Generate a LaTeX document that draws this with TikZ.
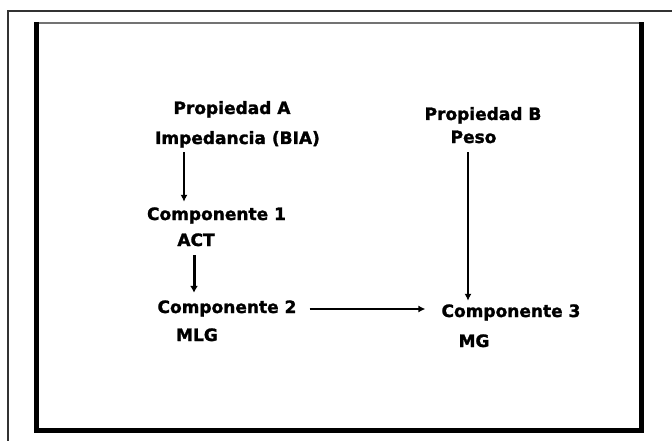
\documentclass[tikz,border=0pt]{standalone}
\usepackage{fontspec}
\setmainfont{DejaVu Sans}
\newfontfamily\lblfont{DejaVu Sans Bold}[FakeBold=1.5]
\usetikzlibrary{arrows.meta}
\begin{document}
\begin{tikzpicture}[x=1pt,y=-1pt,
  lbl/.style={anchor=base,inner sep=0pt,text height=12pt,text depth=3pt,
    font=\fontsize{17}{19}\lblfont},
  arr/.style={line width=1.3pt,-{Latex[length=7pt,width=7pt]}},
  arrthick/.style={line width=3pt,-{Latex[length=7pt,width=8pt]}}]
\useasboundingbox (0,0) rectangle (672,441);
% outer frame
\draw[line width=1.6pt,black!80] (8,441) -- (8,11) -- (672,11);
% inner frame
\draw[line width=2pt,black!55] (36,23) -- (641,23);
\draw[line width=5pt,black] (36.5,22) -- (36.5,430) -- (641,430) -- (641,22);
% labels
\node[lbl] (propA) at (232,114) {Propiedad A};
\node[lbl] (impA)  at (237.5,144) {Impedancia (BIA)};
\node[lbl] (comp1) at (216.5,220) {Componente 1};
\node[lbl] (act)   at (196,246) {ACT};
\node[lbl] (comp2) at (227,313) {Componente 2};
\node[lbl] (mlg)   at (197,341) {MLG};
\node[lbl] (propB) at (483,120) {Propiedad B};
\node[lbl] (peso)  at (473.5,143) {Peso};
\node[lbl] (comp3) at (511,317) {Componente 3};
\node[lbl] (mg)    at (474,347) {MG};
% connectors
\draw[arr] ([shift={(-53.5,5)}]impA.south) -- ([shift={(-32.5,-6)}]comp1.north);
\draw[arrthick] ([shift={(-2,6)}]act.south) -- ([shift={(-33,-8)}]comp2.north);
\draw[arr] ([shift={(13,0.5)}]comp2.east) -- ([shift={(-16,-3.5)}]comp3.west);
\draw[arr] ([shift={(-5.5,6)}]peso.south) -- ([shift={(-43,-4)}]comp3.north);
\end{tikzpicture}
\end{document}
